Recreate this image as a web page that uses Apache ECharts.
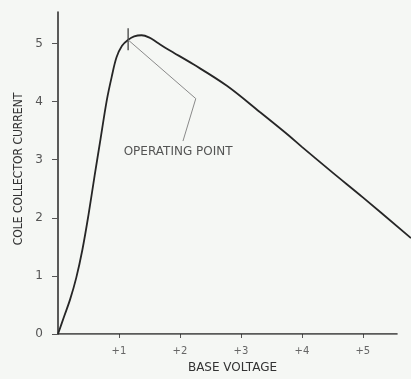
<!DOCTYPE html>
<html>
<head>
<meta charset="utf-8">
<script src="https://cdn.jsdelivr.net/npm/echarts@6/dist/echarts.min.js"></script>
<style>
  html, body { margin: 0; padding: 0; background: #f5f7f4; }
  #chart { width: 411px; height: 379px; }
</style>
</head>
<body>
<div id="chart"></div>
<script>
// Collector current vs. base voltage characteristic
const baseVoltage = [0, 0.10, 0.20, 0.30, 0.40, 0.50, 0.60, 0.70, 0.80, 0.88, 0.96, 1.05, 1.15, 1.25, 1.37, 1.50, 1.62, 1.80, 2.22, 2.77, 3.31, 3.78, 4.00, 4.50, 5.00, 5.79];
const collectorCurrent = [0, 0.30, 0.60, 0.97, 1.45, 2.05, 2.72, 3.37, 4.02, 4.42, 4.76, 4.96, 5.06, 5.12, 5.14, 5.10, 5.02, 4.90, 4.64, 4.27, 3.82, 3.42, 3.22, 2.78, 2.35, 1.65];

// Operating point and its callout
const opVoltage = 1.15;
const opTickSpan = [4.88, 5.26];
const leaderVoltage = [1.15, 2.26, 2.05];
const leaderCurrent = [5.06, 4.05, 3.32];
const opLabel = 'OPERATING POINT';
const opLabelAt = [1.97, 3.13];

// Horizontal axis runs to 5.57 V; the curve continues past it to the page edge
const xAxisEnd = 5.57;
const xTicks = [1, 2, 3, 4, 5];
const yTicks = [0, 1, 2, 3, 4, 5];
const xName = 'BASE VOLTAGE';
const yName = 'COLE COLLECTOR CURRENT';

const zip = (a, b) => a.map((v, i) => [v, b[i]]);

const ink = '#262626';
const font = 'DejaVu Sans';

const chart = echarts.init(document.getElementById('chart'), null, { renderer: 'canvas' });
chart.setOption({
  backgroundColor: '#f5f7f4',
  animation: false,
  grid: { left: 58, right: 0, top: 12, bottom: 41 },
  xAxis: {
    type: 'value', min: 0, max: 5.79,
    name: xName, nameLocation: 'middle', nameGap: 28,
    nameTextStyle: { color: '#333', fontFamily: font, fontSize: 12, padding: [0, 4, 0, 0] },
    axisLine: { show: false },
    axisTick: { show: true, customValues: xTicks, length: 4, lineStyle: { color: '#555', width: 1 } },
    axisLabel: { customValues: xTicks, formatter: v => '+' + v, color: '#666', fontFamily: font, fontSize: 10, margin: 12 },
    splitLine: { show: false }
  },
  yAxis: {
    type: 'value', min: 0, max: 5.54,
    name: yName, nameLocation: 'middle', nameGap: 30, nameRotate: 90,
    nameTextStyle: { color: '#333', fontFamily: 'DejaVu Sans Condensed', fontSize: 12, padding: [0, 0, 0, 8] },
    axisLine: { show: true, lineStyle: { color: ink, width: 1.5 } },
    axisTick: { show: true, customValues: yTicks, length: 6, lineStyle: { color: '#555', width: 1 } },
    axisLabel: { customValues: yTicks, color: '#555', fontFamily: font, fontSize: 12, margin: 15 },
    splitLine: { show: false }
  },
  series: [
    {
      // horizontal axis line, stopping short of the right edge
      type: 'line', data: [[0, 0], [xAxisEnd, 0]],
      symbol: 'none', silent: true, lineStyle: { color: ink, width: 1.5 }
    },
    {
      type: 'line', data: zip(baseVoltage, collectorCurrent),
      smooth: 0.35, symbol: 'none',
      lineStyle: { color: ink, width: 1.8 }
    },
    {
      type: 'line', data: [[opVoltage, opTickSpan[0]], [opVoltage, opTickSpan[1]]],
      symbol: 'none', lineStyle: { color: '#333', width: 1.2 }
    },
    {
      type: 'line', data: zip(leaderVoltage, leaderCurrent),
      symbol: 'none', lineStyle: { color: '#8a8a8a', width: 1 }
    },
    {
      type: 'scatter', data: [opLabelAt], symbolSize: 0,
      label: { show: true, position: 'inside', formatter: opLabel, color: '#2a2a2a', fontFamily: font, fontSize: 12 }
    }
  ]
});
</script>
</body>
</html>
